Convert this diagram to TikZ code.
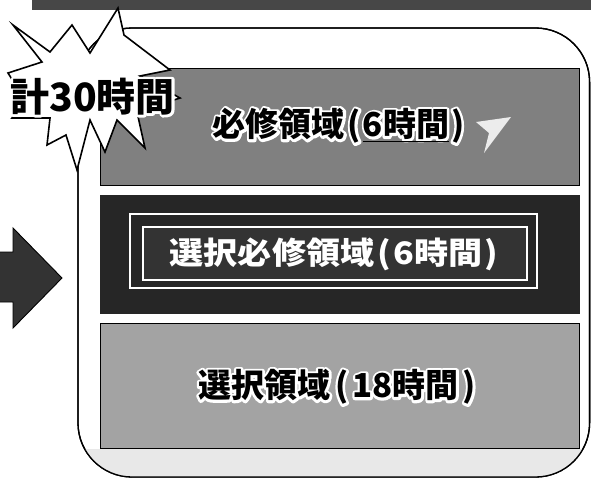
\documentclass[tikz,border=0pt]{standalone}
\usepackage{fontspec}
\usepackage{graphicx}
\newfontfamily\jp{Noto Sans CJK JP}
\newcommand\haloed[2]{{\special{pdf:literal direct 1 1 1 rg 1 1 1 RG #1 w 1 j 2 Tr}#2\special{pdf:literal direct 0 Tr}}}
\newcommand\txtA{必修領域\kern3pt(\kern2pt\underline{6時間}\kern2pt)}
\newcommand\txtB{\scalebox{1.1}[1]{選択必修領域\kern3pt(\kern2pt 6時間\kern2pt)}}
\newcommand\txtC{選択領域\kern5pt(\kern4pt 18時間\kern4pt)}
\begin{document}
\begin{tikzpicture}[x=1pt,y=-1pt,
  frame/.style={draw=black,line width=1.3pt},
  band/.style={draw=black,line width=0.8pt,minimum width=479pt,inner sep=0pt},
  jptext/.style={font={\jp\bfseries\fontsize{#1}{#1}\selectfont},inner sep=0pt},
  whiteline/.style={draw=white,line width=2.4pt}
]
\useasboundingbox (0,0) rectangle (591,479);
% top bar
\fill[black!72] (32,0) rectangle (591,10);
% outer rounded frame
\draw[frame,fill=white,rounded corners=54pt] (78,28) rectangle (589.6,477);
\begin{scope}
  \clip[rounded corners=54pt] (78,28) rectangle (589.6,477);
  \fill[black!9] (78,449) rectangle (591,479);
\end{scope}
\draw[frame,rounded corners=54pt] (78,28) rectangle (589.6,477);
% arrow
\filldraw[fill=black!80,draw=black,line width=0.9pt,line join=miter]
  (0,252) -- (13,252) -- (13,228) -- (62,278) -- (13,328) -- (13,302) -- (0,302);
% band 1
\node[band,fill=black!50,minimum height=117pt] (b1) at (339.5,126.5) {};
% band 2
\node[band,draw=black!85,fill=black!85,minimum height=118pt] (b2) at (339.5,254) {};
\node[whiteline,minimum width=407pt,minimum height=74pt,inner sep=0pt] (f2) at (333.5,251) {};
\node[draw=white,line width=2pt,fill=black!80,minimum width=384pt,minimum height=53pt,inner sep=0pt] (g2) at (335,253.5) {};
% band 3
\node[band,fill=black!36,minimum height=125pt] (b3) at (339.5,385.5) {};
% white brush mark in band 1
\fill[white,opacity=0.85] (476,122) -- (511,117) -- (484,153) -- (489,133) -- cycle;
% text of band 1
\node[jptext=33,text=white] (t1h) at (338.5,126) {\haloed{5}{\txtA}};
\node[jptext=33,text=black] (t1) at (338.5,126) {\txtA};
% text of band 2
\node[jptext=31,text=white] (t2) at (334,254) {\txtB};
% text of band 3
\node[jptext=33,text=white] (t3h) at (337,387) {\haloed{5}{\txtC}};
\node[jptext=33,text=black] (t3) at (337,387) {\txtC};
% starburst
\filldraw[fill=white,draw=black,line width=1.6pt,line join=miter]
  (13,25) -- (50,52) -- (72,25) -- (90,53) -- (118,8) -- (124,35) -- (170,70)
  -- (140,76) -- (180,98) -- (137,112) -- (145,148) -- (117,120) -- (105,152)
  -- (90,120) -- (77,170) -- (66,135) -- (47,145) -- (50,118) -- (12,118)
  -- (25,100) -- (8,73) -- (42,62) -- cycle;
% star text
\coordinate (sc) at (92.5,96.5);
\node[jptext=39,text=white] (s0h) at (sc) {\haloed{5}{計30時間}};
\node[jptext=39,text=black] (s0) at (sc) {計30時間};
\end{tikzpicture}
\end{document}
